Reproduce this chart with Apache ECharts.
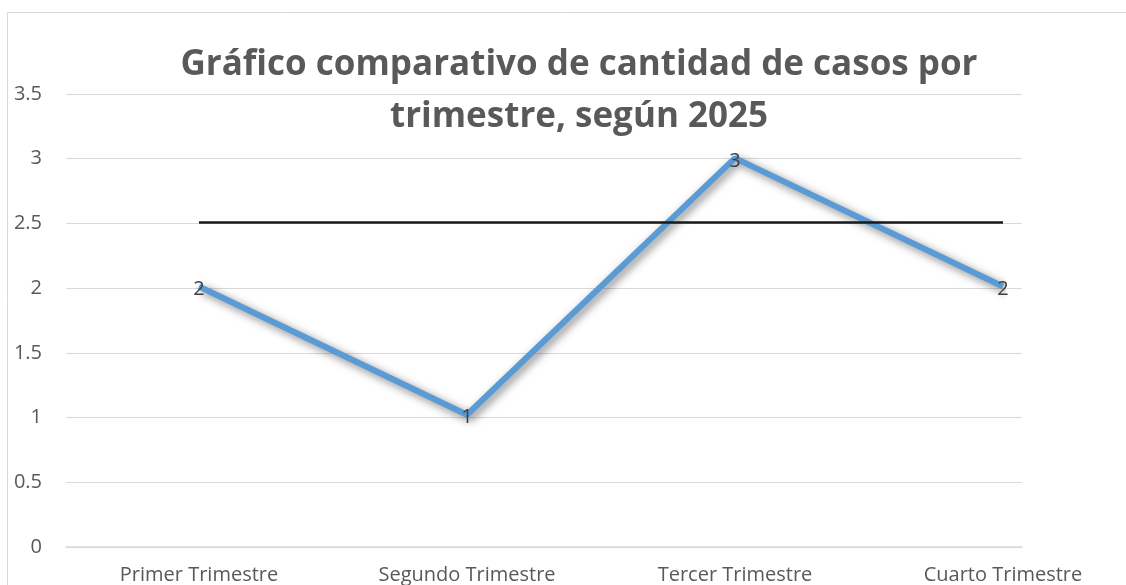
<!DOCTYPE html>
<html>
<head>
<meta charset="utf-8">
<script src="https://cdn.jsdelivr.net/npm/echarts@6/dist/echarts.min.js"></script>
<style>
html,body{margin:0;padding:0;background:#fff;}
#chart{width:1126px;height:585px;}
</style>
</head>
<body>
<div id="chart"></div>
<script>
const titleText = 'Gráfico comparativo de cantidad de casos por\ntrimestre, según 2025';
const categories = ['Primer Trimestre', 'Segundo Trimestre', 'Tercer Trimestre', 'Cuarto Trimestre'];
const casos = [2, 1, 3, 2];
const referencia = 2.5;
const yMin = 0, yMax = 3.5, yStep = 0.5;

const chart = echarts.init(document.getElementById('chart'), null, {renderer: 'canvas'});
const font = '"Open Sans", "Liberation Sans", sans-serif';
const option = {
  backgroundColor: '#ffffff',
  animation: false,
  graphic: [{
    type: 'rect',
    shape: {x: 7.5, y: 12.5, width: 1300, height: 700},
    style: {fill: 'none', stroke: '#d9d9d9', lineWidth: 1},
    silent: true
  }],
  title: {
    text: titleText,
    left: 574,
    textAlign: 'center',
    top: 34,
    textStyle: {
      fontFamily: font,
      fontWeight: 'bold',
      fontSize: 35,
      lineHeight: 52,
      color: '#595959'
    }
  },
  grid: [
    {left: 66, right: 104, top: 94, bottom: 38},
    {left: 199, right: 123, top: 94, bottom: 38}
  ],
  xAxis: [
    {
      gridIndex: 0, type: 'category', data: categories, boundaryGap: false,
      axisLine: {show: true, lineStyle: {color: '#d9d9d9', width: 1.5}},
      axisTick: {show: false}, axisLabel: {show: false}, splitLine: {show: false}
    },
    {
      gridIndex: 1, type: 'category', data: categories, boundaryGap: false,
      axisLine: {show: false}, axisTick: {show: false}, splitLine: {show: false},
      axisLabel: {
        show: true, margin: 22, fontFamily: font, fontSize: 20, color: '#595959'
      }
    }
  ],
  yAxis: [
    {
      gridIndex: 0, type: 'value', min: yMin, max: yMax, interval: yStep,
      axisLine: {show: false}, axisTick: {show: false},
      splitLine: {show: true, lineStyle: {color: '#d9d9d9', width: 1}},
      axisLabel: {margin: 24, fontFamily: font, fontSize: 20, color: '#595959'}
    },
    {
      gridIndex: 1, type: 'value', min: yMin, max: yMax, interval: yStep, show: false
    }
  ],
  series: [{
    type: 'line',
    xAxisIndex: 1, yAxisIndex: 1,
    data: casos,
    showSymbol: true,
    symbol: 'circle',
    symbolSize: 2,
    lineStyle: {
      color: '#5b9bd5', width: 6,
      shadowColor: 'rgba(0,0,0,0.5)', shadowBlur: 8, shadowOffsetX: 3, shadowOffsetY: 3
    },
    itemStyle: {color: 'rgba(91,155,213,0)', borderWidth: 0},
    label: {
      show: true, position: 'inside', offset: [0, 3],
      fontFamily: font, fontSize: 20, color: '#404040'
    },
    markLine: {
      silent: true,
      symbol: ['none', 'none'],
      label: {show: false},
      lineStyle: {color: '#1a1a1a', width: 2.5, type: 'solid'},
      data: [{yAxis: referencia}]
    },
    z: 3
  }]
};
chart.setOption(option);
</script>
</body>
</html>
